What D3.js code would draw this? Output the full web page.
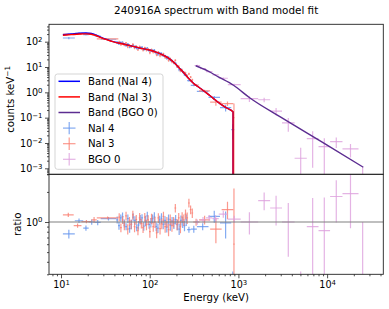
<!DOCTYPE html>
<html>
<head>
<meta charset="utf-8">
<script src="https://cdn.jsdelivr.net/npm/d3@7"></script>
<style>
body { margin: 0; background: #fff; }
text { font-family: "DejaVu Sans", sans-serif; fill: #000; }
</style>
</head>
<body>
<svg id="chart" width="389" height="309"></svg>
<script>
// energy axis ticks
var xTicks = [10, 100, 1000, 10000];
var countTicks = [1e-3, 1e-2, 1e-1, 1, 10, 100];
var ratioTicks = [1];

// NaI 4 (bin edges in keV, counts keV^-1, ratio, fractional error)
var nai4Edges = [10.5, 14.3, 17.8, 20.5, 24, 28,
	42, 44.0, 46.1, 48.3, 50.5, 52.9, 55.4, 58.0, 60.7, 63.6, 66.6, 69.7, 73.0, 76.4, 80.0, 83.8, 87.7, 91.8, 96.1, 100.7,
	105.4, 110.3, 115.5, 121.0, 126.6, 132.6, 138.8, 145.4, 152.2, 159.4, 166.8, 174.7, 182.9, 191.5, 200.5, 209.9, 219.8,
	230.1, 241.0, 252.3, 264.1, 290, 340, 460, 620, 830, 900];
var nai4Counts = [140, 215, 190, 200, 165, 125,
	96, 82, 95, 94, 78, 69, 80, 61, 65, 74, 66, 54, 54, 59, 61, 48, 53, 56, 44, 45,
	46, 46, 35, 31, 36, 34, 28, 28, 22, 24, 18.6, 17.9, 14.7, 13.8, 10.3, 7.8, 8.0, 6.5, 5.0, 4.7,
	2.9, 1.9, 1.1, 0.63, 0.25, 0.034];
var nai4Ratio = [0.76, 1.03, 0.87, 1.0, 0.99, 1.08,
	1.05, 0.92, 1.10, 1.13, 0.97, 0.90, 1.08, 0.86, 0.95, 1.12, 1.04, 0.88, 0.93, 1.06, 1.10, 0.91, 1.03, 1.15, 0.94, 0.99,
	1.08, 1.12, 0.90, 0.87, 1.05, 1.09, 0.95, 1.04, 0.89, 1.07, 0.93, 1.02, 0.97, 1.06, 0.94, 0.85, 1.04, 1.0, 0.92, 1.05,
	0.84, 0.85, 0.9, 1.14, 0.98, 0.2];
var nai4Err = [0.1, 0.05, 0.06, 0.06, 0.06, 0.04,
	0.08, 0.09, 0.08, 0.1, 0.09, 0.08, 0.1, 0.09, 0.11, 0.09, 0.1, 0.08, 0.1, 0.11, 0.09, 0.1, 0.12, 0.1, 0.09, 0.11,
	0.1, 0.12, 0.1, 0.11, 0.1, 0.12, 0.11, 0.1, 0.12, 0.11, 0.12, 0.1, 0.12, 0.11, 0.12, 0.13, 0.12, 0.13, 0.12, 0.13,
	0.07, 0.08, 0.08, 0.14, 0.3, 0.6];

// NaI 3
var nai3Edges = [10.5, 13.9, 17.0, 22.0, 25.3,
	44.3, 46.3, 48.4, 50.6, 52.9, 55.3, 57.8, 60.4, 63.1, 66.0, 69.0, 72.1, 75.3, 78.7, 82.3, 86.0, 89.9, 93.9, 98.2, 102.6,
	107.2, 112.1, 117.1, 122.4, 127.9, 133.7, 139.7, 146.0, 152.6, 159.5, 166.7, 174.2, 182.0, 190.2, 198.8, 207.7, 217.1,
	226.9, 237.1, 247.8, 258.9, 270.6, 282.8, 295.5, 308.8,
	360, 480, 647, 877, 905];
var nai3Counts = [200, 195, 215, 190, 130,
	99, 76, 87, 74, 89, 63, 72, 65, 78, 57, 65, 48, 63, 53, 47, 58, 47, 51, 37, 48,
	38, 40, 30, 39, 28, 30, 33, 24, 25, 18.7, 21, 16.2, 15.4, 18.4, 10.7, 10.6, 7.2, 7.6, 6.1, 5.8, 4.5, 5.4, 4.0, 3.1,
	1.95, 1.15, 0.41, 0.36, 0.1];
var nai3Ratio = [1.18, 0.92, 1.01, 1.05, 1.1,
	1.12, 0.88, 1.05, 0.93, 1.15, 0.85, 1.02, 0.95, 1.18, 0.9, 1.06, 0.82, 1.1, 0.97, 0.88, 1.12, 0.94, 1.05, 0.8, 1.08,
	0.9, 1.0, 0.78, 1.1, 0.86, 0.96, 1.14, 0.9, 1.0, 0.84, 1.06, 0.92, 1.0, 1.38, 0.95, 1.1, 0.9, 1.12, 1.05, 1.2, 1.1, 1.55, 1.33, 1.23,
	1.0, 1.05, 0.85, 1.33, 0.6];
var nai3Err = [0.05, 0.05, 0.04, 0.07, 0.03,
	0.09, 0.1, 0.09, 0.11, 0.1, 0.12, 0.1, 0.11, 0.1, 0.12, 0.11, 0.1, 0.12, 0.11, 0.12, 0.1, 0.12, 0.11, 0.13, 0.12,
	0.11, 0.13, 0.12, 0.11, 0.13, 0.12, 0.11, 0.13, 0.12, 0.14, 0.12, 0.13, 0.12, 0.1, 0.13, 0.12, 0.14, 0.12, 0.13, 0.11, 0.13, 0.1, 0.1, 0.11,
	0.08, 0.1, 0.28, 0.2, 2.6];

// BGO 0
var bgoEdges = [320, 370, 430, 510, 600, 760, 1060, 1670, 2280, 3100, 4300, 5900, 8000, 10800, 14900, 22600, 28000];
var bgoCounts = [11.5, 8.6, 6.6, 4.9, 3.6, 2.0, 0.56, 0.51, 0.18, 0.062, 0.0025, 0.015, 0.0072, 0.0114, 0.0059, 0.0003];
var bgoRatio = [1.0, 1.05, 1.1, 1.08, 1.2, 1.07, 1.0, 1.64, 1.38, 1.0, 0.123, 0.9, 0.82, 1.8, 1.92, 0.27];
var bgoErr = [0.06, 0.07, 0.07, 0.08, 0.08, 0.08, 0.25, 0.2, 0.33, 0.55, 1.6, 0.93, 1.15, 0.45, 0.55, 2.7];

// Band model curves (keV, counts keV^-1)
var nai4ModelE = [10.5, 13, 16, 19, 22, 25, 28, 32, 37, 42, 46, 60, 78, 101, 120, 155, 184, 210, 239, 270, 311, 370, 440, 520, 620, 740, 870, 870];
var nai4ModelC = [188, 200, 214, 220, 210, 180, 152, 126, 105, 93, 88, 70, 56, 46, 38, 25, 16, 10, 6.2, 3.8, 2.3, 1.45, 0.93, 0.58, 0.36, 0.24, 0.17, 1e-6];
var nai3ModelE = [10.5, 13, 16, 19, 22, 25, 28, 32, 37, 42, 46, 60, 78, 101, 120, 155, 184, 210, 239, 270, 311, 370, 440, 520, 620, 740, 870, 870];
var nai3ModelC = [180, 190, 200, 203, 196, 172, 147, 123, 104, 92, 87, 70, 56, 46, 38, 25, 16, 10, 6.2, 3.8, 2.3, 1.45, 0.93, 0.58, 0.36, 0.24, 0.17, 1e-6];
var bgoModelE = [330, 450, 600, 880, 1350, 3000, 10000, 25600];
var bgoModelC = [11.2, 7.0, 4.0, 1.9, 0.6, 0.105, 0.0083, 0.0011];

var legendLabels = ['Band (NaI 4)', 'Band (NaI 3)', 'Band (BGO 0)', 'NaI 4', 'NaI 3', 'BGO 0'];

var colors = {nai4: '#6495ed', nai3: '#fa8072', bgo: '#dda0dd',
	nai4Line: '#0000ff', nai3Line: '#ff0000', bgoLine: '#5c2d91'};

var svg = d3.select('#chart');
var left = 49, right = 383.3, top1 = 24.3, bot1 = 174.3, bot2 = 274.3;

var x = d3.scaleLog().domain([7.32, 43000]).range([left, right]);
var yTop = d3.scaleLog().domain([5.8e-4, 486]).range([bot1, top1]);
var yRat = d3.scaleLog().domain([0.3, 3]).range([bot2, bot1]);

var defs = svg.append('defs');
defs.append('clipPath').attr('id', 'clipTop').append('rect')
	.attr('x', left).attr('y', top1).attr('width', right - left).attr('height', bot1 - top1);
defs.append('clipPath').attr('id', 'clipRat').append('rect')
	.attr('x', left).attr('y', bot1).attr('width', right - left).attr('height', bot2 - bot1);

var gTop = svg.append('g').attr('clip-path', 'url(#clipTop)');
var gRat = svg.append('g').attr('clip-path', 'url(#clipRat)');

function drawBins(g, edges, vals, errs, y, color) {
	var floor = y.domain()[0] * 0.5;
	var bins = vals.map(function(v, i) {
		return {a: edges[i], b: edges[i + 1], c: Math.sqrt(edges[i] * edges[i + 1]), v: v, e: errs[i]};
	});
	var s = g.append('g').attr('stroke', color).attr('stroke-width', 1.2).attr('stroke-opacity', 0.8);
	s.selectAll('line.h').data(bins).join('line').attr('class', 'h')
		.attr('x1', function(d) {return x(d.a)})
		.attr('x2', function(d) {return x(d.b)})
		.attr('y1', function(d) {return y(d.v)})
		.attr('y2', function(d) {return y(d.v)});
	s.selectAll('line.v').data(bins).join('line').attr('class', 'v')
		.attr('x1', function(d) {return x(d.c)})
		.attr('x2', function(d) {return x(d.c)})
		.attr('y1', function(d) {return y(d.v * (1 + d.e))})
		.attr('y2', function(d) {return y(Math.max(d.v * (1 - d.e), floor))});
}

drawBins(gTop, nai4Edges, nai4Counts, nai4Err, yTop, colors.nai4);
drawBins(gTop, nai3Edges, nai3Counts, nai3Err, yTop, colors.nai3);
drawBins(gTop, bgoEdges, bgoCounts, bgoErr, yTop, colors.bgo);

drawBins(gRat, nai4Edges, nai4Ratio, nai4Err, yRat, colors.nai4);
drawBins(gRat, nai3Edges, nai3Ratio, nai3Err, yRat, colors.nai3);
drawBins(gRat, bgoEdges, bgoRatio, bgoErr, yRat, colors.bgo);

var line = d3.line().curve(d3.curveMonotoneX)
	.x(function(d) {return x(d[0])}).y(function(d) {return yTop(d[1])});
function drawModel(es, cs, color) {
	gTop.append('path').datum(d3.zip(es, cs))
		.attr('d', line).attr('fill', 'none')
		.attr('stroke', color).attr('stroke-width', 1.4);
}
drawModel(nai4ModelE, nai4ModelC, colors.nai4Line);
drawModel(nai3ModelE, nai3ModelC, colors.nai3Line);
drawModel(bgoModelE, bgoModelC, colors.bgoLine);

// ratio = 1 reference
gRat.append('line')
	.attr('x1', left).attr('x2', right)
	.attr('y1', yRat(1)).attr('y2', yRat(1))
	.attr('stroke', '#808080').attr('stroke-width', 1.2);

// axes
function powLabels(sel) {
	sel.selectAll('.tick text').each(function(d) {
		var e = Math.round(Math.log10(d));
		var t = d3.select(this).text('10');
		t.append('tspan').attr('dy', '-0.45em').attr('font-size', '0.72em')
			.text(e < 0 ? '\u2212' + (-e) : String(e));
	});
}
function minor(scale, majors) {
	return scale.ticks().filter(function(v) {
		return !majors.some(function(m) {return Math.abs(m - v) / m < 1e-6});
	});
}
function styleAxis(g) {
	g.select('.domain').remove();
	g.selectAll('.tick line').attr('stroke', '#222').attr('stroke-width', 0.8);
	g.selectAll('.tick text').attr('font-size', 9.6).attr('font-family', '"DejaVu Sans", sans-serif');
}

var ax = svg.append('g').attr('transform', 'translate(0,' + bot2 + ')')
	.call(d3.axisBottom(x).tickValues(xTicks).tickSize(4).tickPadding(2.5));
styleAxis(ax); powLabels(ax);
var axm = svg.append('g').attr('transform', 'translate(0,' + bot2 + ')')
	.call(d3.axisBottom(x).tickValues(minor(x, xTicks)).tickSize(2).tickFormat(''));
styleAxis(axm);

var ay = svg.append('g').attr('transform', 'translate(' + left + ',0)')
	.call(d3.axisLeft(yTop).tickValues(countTicks).tickSize(4).tickPadding(2.5));
styleAxis(ay); powLabels(ay);
var aym = svg.append('g').attr('transform', 'translate(' + left + ',0)')
	.call(d3.axisLeft(yTop).tickValues(minor(yTop, countTicks)).tickSize(2).tickFormat(''));
styleAxis(aym);

var ar = svg.append('g').attr('transform', 'translate(' + left + ',0)')
	.call(d3.axisLeft(yRat).tickValues(ratioTicks).tickSize(4).tickPadding(2.5));
styleAxis(ar); powLabels(ar);
var arm = svg.append('g').attr('transform', 'translate(' + left + ',0)')
	.call(d3.axisLeft(yRat).tickValues(minor(yRat, ratioTicks)).tickSize(2).tickFormat(''));
styleAxis(arm);

// frames
[[top1, bot1], [bot1, bot2]].forEach(function(p) {
	svg.append('rect').attr('x', left).attr('y', p[0])
		.attr('width', right - left).attr('height', p[1] - p[0])
		.attr('fill', 'none').attr('stroke', '#222').attr('stroke-width', 0.9);
});

// titles and labels
svg.append('text').attr('x', (left + right) / 2).attr('y', 14.2)
	.attr('text-anchor', 'middle').attr('font-size', 10.4)
	.text('240916A spectrum with Band model fit');
svg.append('text').attr('x', (left + right) / 2).attr('y', 300.5)
	.attr('text-anchor', 'middle').attr('font-size', 10.2)
	.text('Energy (keV)');
var yl = svg.append('text').attr('transform', 'translate(10,' + (top1 + bot1) / 2 + ') rotate(-90)')
	.attr('text-anchor', 'middle').attr('dy', '0.35em').attr('font-size', 10.2).text('counts keV');
yl.append('tspan').attr('dy', '-0.45em').attr('font-size', '0.72em').text('\u22121');
svg.append('text').attr('transform', 'translate(17,' + (bot1 + bot2) / 2 + ') rotate(-90)')
	.attr('text-anchor', 'middle').attr('dy', '0.35em').attr('font-size', 10.2).text('ratio');

// legend
var lg = svg.append('g');
lg.append('rect').attr('x', 55).attr('y', 74).attr('width', 108).attr('height', 95.3)
	.attr('rx', 2.5).attr('fill', '#fff').attr('fill-opacity', 0.8)
	.attr('stroke', '#d0d0d0').attr('stroke-width', 0.9);
var legendColors = [colors.nai4Line, colors.nai3Line, colors.bgoLine, colors.nai4, colors.nai3, colors.bgo];
legendLabels.forEach(function(label, i) {
	var cy = 81.3 + i * 15.6;
	if (i < 3) {
		lg.append('line').attr('x1', 58.5).attr('x2', 80).attr('y1', cy).attr('y2', cy)
			.attr('stroke', legendColors[i]).attr('stroke-width', 1.5);
	} else {
		var m = lg.append('g').attr('stroke', legendColors[i]).attr('stroke-width', 1.2).attr('stroke-opacity', 0.8);
		m.append('line').attr('x1', 63).attr('x2', 75.5).attr('y1', cy).attr('y2', cy);
		m.append('line').attr('x1', 69.2).attr('x2', 69.2).attr('y1', cy - 6.2).attr('y2', cy + 6.2);
	}
	lg.append('text').attr('x', 88).attr('y', cy + 3.7).attr('font-size', 10.2).text(label);
});
</script>
</body>
</html>
